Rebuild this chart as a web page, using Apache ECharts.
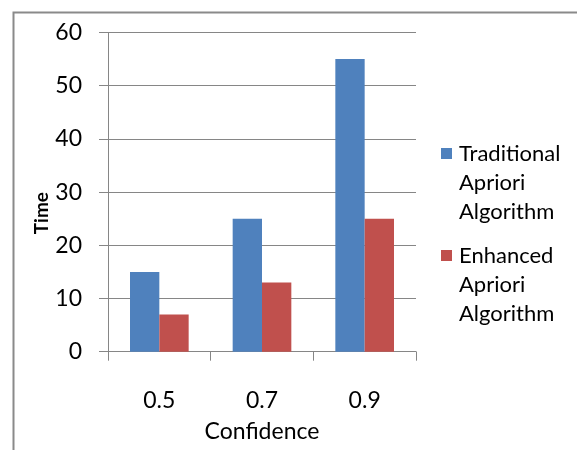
<!DOCTYPE html>
<html>
<head>
<meta charset="utf-8">
<script src="https://cdn.jsdelivr.net/npm/echarts@6/dist/echarts.min.js"></script>
<style>
html,body{margin:0;padding:0;background:#fff;}
#chart{width:577px;height:450px;}
</style>
</head>
<body>
<div id="chart"></div>
<script>
const categories = ['0.5', '0.7', '0.9'];
const traditional = [15, 25, 55];
const enhanced = [7, 13, 25];
const seriesNames = ['Traditional Apriori Algorithm', 'Enhanced Apriori Algorithm'];
const legendLabels = {
  'Traditional Apriori Algorithm': 'Traditional\nApriori\nAlgorithm',
  'Enhanced Apriori Algorithm': 'Enhanced\nApriori\nAlgorithm'
};
const yTicks = {min: 0, max: 60, interval: 10};

const FONT = 'Lato';
const GRAY = '#868686';
const chart = echarts.init(document.getElementById('chart'), null, {renderer: 'canvas'});
// icon: square at the first text line, invisible points stretch bounding box
const icon = 'path://M0,0 M13,87 M0,9 L11,9 L11,20 L0,20 Z';
chart.setOption({
  animation: false,
  backgroundColor: '#fff',
  graphic: [{
    type: 'rect', left: 11, top: 10,
    shape: {width: 700, height: 700},
    style: {fill: 'none', stroke: '#8a8a8a', lineWidth: 2},
    silent: true, z: -1
  }],
  grid: {left: 108, right: 161, top: 32.5, bottom: 98.3, containLabel: false},
  legend: {
    orient: 'vertical',
    left: 436, top: 134,
    itemWidth: 13, itemHeight: 87, itemGap: 15,
    icon: icon,
    data: seriesNames,
    formatter: function (n) { return legendLabels[n]; },
    textStyle: {fontFamily: FONT, fontSize: 22, lineHeight: 29, color: '#000'}
  },
  xAxis: {
    type: 'category',
    data: categories,
    name: 'Confidence',
    nameLocation: 'middle',
    nameGap: 68,
    nameMoveOverlap: false,
    nameTextStyle: {fontFamily: FONT, fontSize: 23, color: '#000', verticalAlign: 'top'},
    axisLine: {lineStyle: {color: GRAY, width: 1}},
    axisTick: {show: true, length: 9, inside: false, lineStyle: {color: GRAY}},
    axisLabel: {fontFamily: FONT, fontSize: 23, color: '#000', margin: 37}
  },
  yAxis: {
    type: 'value',
    min: yTicks.min, max: yTicks.max, interval: yTicks.interval,
    name: 'Time',
    nameLocation: 'middle',
    nameGap: 57,
    nameMoveOverlap: false,
    nameRotate: 90,
    nameTextStyle: {fontFamily: FONT, fontSize: 19, fontWeight: 'bold', color: '#000', padding: [0, 42, 0, 0]},
    axisLine: {show: true, lineStyle: {color: GRAY, width: 1}},
    axisTick: {show: true, length: 9, inside: false, lineStyle: {color: GRAY}},
    axisLabel: {fontFamily: FONT, fontSize: 23, color: '#000', margin: 26},
    splitLine: {show: true, lineStyle: {color: GRAY, width: 1}}
  },
  series: [{
    name: seriesNames[0], type: 'bar', data: traditional,
    itemStyle: {color: '#4F81BD'},
    barGap: '0%', barCategoryGap: '42.86%'
  }, {
    name: seriesNames[1], type: 'bar', data: enhanced,
    itemStyle: {color: '#C0504D'},
    barGap: '0%', barCategoryGap: '42.86%'
  }]
});
</script>
</body>
</html>
